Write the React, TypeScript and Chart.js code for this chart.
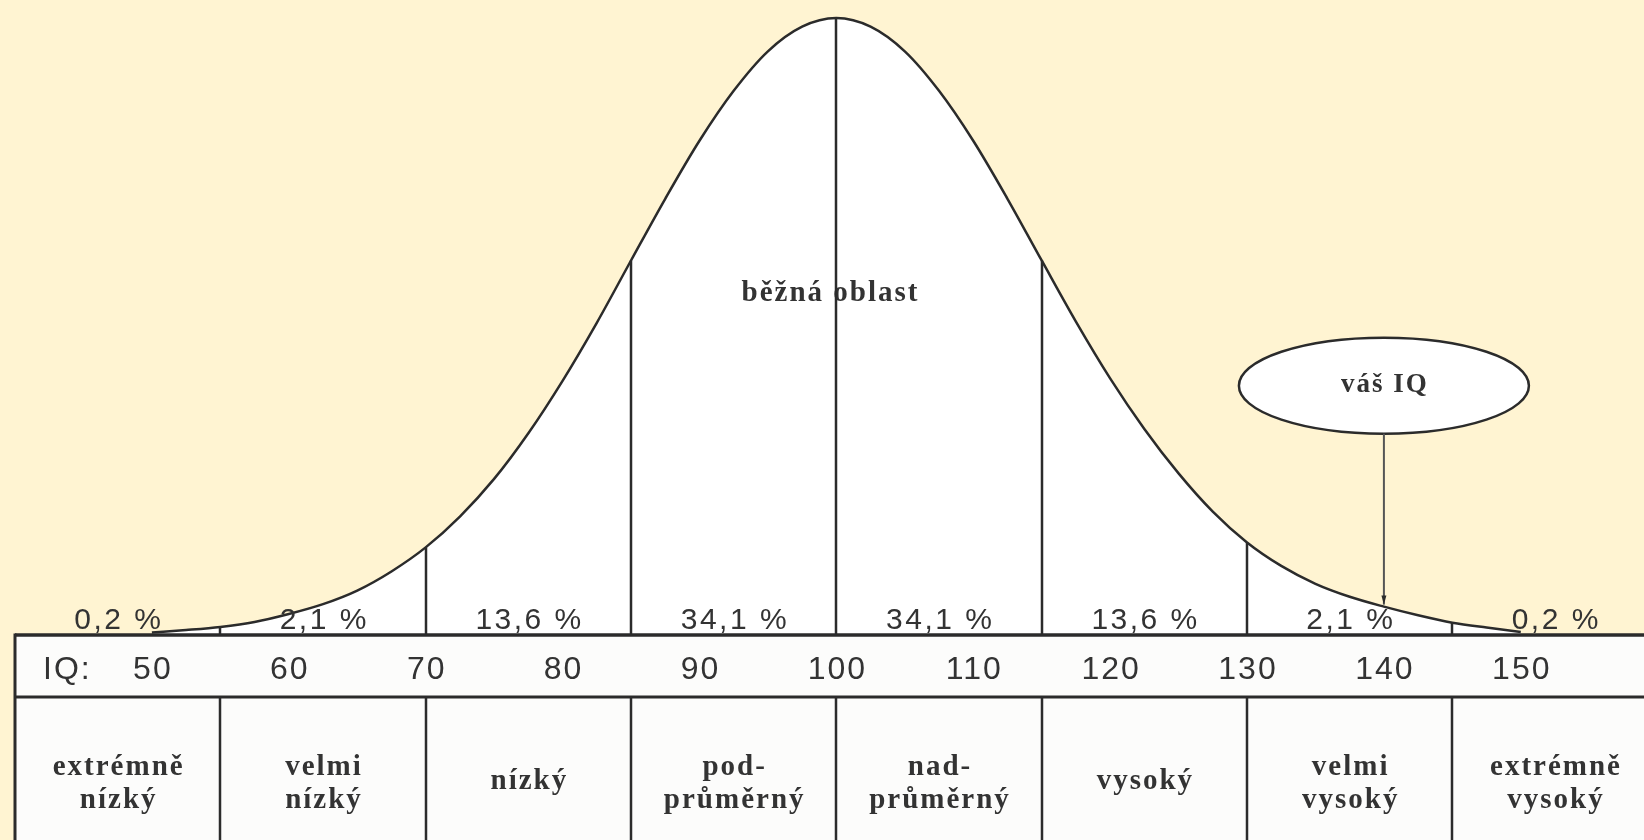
import React, { useEffect, useRef } from 'react';
import { Chart, registerables } from 'chart.js';

Chart.register(...registerables);

// ---- data ----
const curveIQ = [
  50, 52.5, 55, 57.5, 60, 62.5, 65, 67.5, 70, 72.5, 75, 77.5, 80, 82.5, 85, 87.5, 90, 92.5, 95, 97.5,
  100, 102.5, 105, 107.5, 110, 112.5, 115, 117.5, 120, 122.5, 125, 127.5, 130, 132.5, 135, 137.5, 140,
  142.5, 145, 147.5, 150,
];
const curveHeight = [
  0.4, 0.8, 1.3, 2.1, 3.4, 5.0, 7.2, 10.3, 14.2, 19.2, 25.3, 32.7, 41.2, 50.6, 60.7, 70.7, 80.1, 88.2, 94.6, 98.6,
  100, 98.6, 94.6, 88.2, 80.1, 70.7, 60.7, 50.8, 41.6, 33.4, 26.2, 20.0, 15.0, 11.2, 8.3, 6.2, 4.6,
  3.2, 2.0, 1.2, 0.5,
];
const bandEdges = [40, 55, 70, 85, 100, 115, 130, 145, 160];
const percentLabels = ['0,2 %', '2,1 %', '13,6 %', '34,1 %', '34,1 %', '13,6 %', '2,1 %', '0,2 %'];
const iqTicks = [50, 60, 70, 80, 90, 100, 110, 120, 130, 140, 150];
const iqPrefix = 'IQ:';
const categoryLines = [
  ['extrémně', 'nízký'],
  ['velmi', 'nízký'],
  ['nízký'],
  ['pod-', 'průměrný'],
  ['nad-', 'průměrný'],
  ['vysoký'],
  ['velmi', 'vysoký'],
  ['extrémně', 'vysoký'],
];
const regionLabel = 'běžná oblast';
const yourIQValue = 140;
const yourIQLabel = 'váš IQ';

// ---- layout / style ----
const W = 1644;
const H = 840;
const CREAM = '#FFF4D2';
const PAPER = '#FCFCFB';
const INK = '#2b2b2b';
const TEXT = '#333333';
const SANS = "'Liberation Sans', Arial, sans-serif";
const SERIF = "'Liberation Serif', 'Times New Roman', serif";

function text(ctx: CanvasRenderingContext2D, s: string, x: number, y: number, font: string, spacing: number, align: CanvasTextAlign = 'center') {
  ctx.font = font;
  (ctx as any).letterSpacing = spacing + 'px';
  ctx.textAlign = align;
  ctx.textBaseline = 'alphabetic';
  ctx.fillStyle = TEXT;
  const dx = align === 'center' ? spacing / 2 : 0;
  ctx.fillText(s, x + dx, y);
}

const diagramPlugin = {
  id: 'iqDiagram',
  beforeDraw(chart: any) {
    const { ctx, chartArea, scales } = chart;
    ctx.save();
    ctx.fillStyle = CREAM;
    ctx.fillRect(0, 0, W, H);
    const x0 = scales.x.getPixelForValue(bandEdges[0]);
    ctx.fillStyle = PAPER;
    ctx.fillRect(x0, chartArea.bottom, W - x0, H - chartArea.bottom);
    ctx.restore();
  },
  afterDatasetsDraw(chart: any) {
    const { ctx, chartArea, scales } = chart;
    const xs = scales.x;
    const ys = scales.y;
    const base = chartArea.bottom;
    const rowSplit = base + 62;
    const x0 = xs.getPixelForValue(bandEdges[0]);
    ctx.save();

    // region label (under the centre divider)
    text(ctx, regionLabel, xs.getPixelForValue(99.5), ys.getPixelForValue(54.2), `bold 29px ${SERIF}`, 2);

    ctx.strokeStyle = INK;
    ctx.lineCap = 'butt';

    // dividers inside the bell
    ctx.lineWidth = 2.5;
    for (let i = 1; i < bandEdges.length - 1; i++) {
      const iq = bandEdges[i];
      const idx = curveIQ.indexOf(iq);
      const yTop = ys.getPixelForValue(curveHeight[idx]);
      const x = Math.round(xs.getPixelForValue(iq));
      ctx.beginPath();
      ctx.moveTo(x, base);
      ctx.lineTo(x, yTop);
      ctx.stroke();
    }

    // table lines
    ctx.lineWidth = 3.5;
    ctx.beginPath();
    ctx.moveTo(x0, base);
    ctx.lineTo(W, base);
    ctx.stroke();
    ctx.lineWidth = 3;
    ctx.beginPath();
    ctx.moveTo(x0, rowSplit);
    ctx.lineTo(W, rowSplit);
    ctx.stroke();
    ctx.beginPath();
    ctx.moveTo(x0, base - 1.5);
    ctx.lineTo(x0, H);
    ctx.stroke();
    ctx.lineWidth = 2.5;
    for (let i = 1; i < bandEdges.length - 1; i++) {
      const x = Math.round(xs.getPixelForValue(bandEdges[i]));
      ctx.beginPath();
      ctx.moveTo(x, rowSplit);
      ctx.lineTo(x, H);
      ctx.stroke();
    }

    // percentages
    for (let i = 0; i < percentLabels.length; i++) {
      const mid = (bandEdges[i] + bandEdges[i + 1]) / 2;
      text(ctx, percentLabels[i], xs.getPixelForValue(mid), base - 6, `30px ${SANS}`, 2.5);
    }

    // IQ row
    text(ctx, iqPrefix, x0 + 28, base + 43.5, `32px ${SANS}`, 2, 'left');
    for (const v of iqTicks) {
      text(ctx, String(v), xs.getPixelForValue(v), base + 43.5, `32px ${SANS}`, 2);
    }

    // categories
    for (let i = 0; i < categoryLines.length; i++) {
      const mid = (bandEdges[i] + bandEdges[i + 1]) / 2;
      const cx = xs.getPixelForValue(mid);
      const lines = categoryLines[i];
      if (lines.length === 1) {
        text(ctx, lines[0], cx, base + 154, `bold 29px ${SERIF}`, 2);
      } else {
        text(ctx, lines[0], cx, base + 140, `bold 29px ${SERIF}`, 2);
        text(ctx, lines[1], cx, base + 173, `bold 29px ${SERIF}`, 2);
      }
    }

    // "your IQ" callout
    const ex = xs.getPixelForValue(yourIQValue);
    const ey = ys.getPixelForValue(40.4);
    const rx = 145;
    const ry = 48;
    ctx.fillStyle = '#FFFFFF';
    ctx.strokeStyle = INK;
    ctx.lineWidth = 2.5;
    ctx.beginPath();
    ctx.ellipse(ex, ey, rx, ry, 0, 0, Math.PI * 2);
    ctx.fill();
    ctx.stroke();
    text(ctx, yourIQLabel, ex, ey + 6, `bold 27px ${SERIF}`, 2);

    const idx = curveIQ.indexOf(yourIQValue);
    const yEnd = ys.getPixelForValue(curveHeight[idx]) - 2;
    ctx.strokeStyle = '#555';
    ctx.lineWidth = 2;
    ctx.beginPath();
    ctx.moveTo(ex, ey + ry);
    ctx.lineTo(ex, yEnd);
    ctx.stroke();
    ctx.fillStyle = INK;
    ctx.beginPath();
    ctx.moveTo(ex - 2.5, yEnd - 9);
    ctx.lineTo(ex + 2.5, yEnd - 9);
    ctx.lineTo(ex, yEnd);
    ctx.closePath();
    ctx.fill();

    ctx.restore();
  },
};

export default function App() {
  const ref = useRef<HTMLCanvasElement | null>(null);

  useEffect(() => {
    if (!ref.current) return;
    const chart = new Chart(ref.current, {
      type: 'line',
      data: {
        datasets: [
          {
            data: curveIQ.map((x, i) => ({ x, y: curveHeight[i] })),
            borderColor: INK,
            borderWidth: 2.5,
            backgroundColor: '#FFFFFF',
            fill: 'origin',
            pointRadius: 0,
            cubicInterpolationMode: 'monotone',
            clip: false as any,
          },
        ],
      },
      options: {
        animation: false,
        responsive: false,
        devicePixelRatio: 1,
        layout: { padding: { left: 15, right: 0, top: 18, bottom: 205 } },
        scales: {
          x: { type: 'linear', min: 40, max: 159, display: false },
          y: { min: 0, max: 100, display: false },
        },
        plugins: { legend: { display: false }, tooltip: { enabled: false } },
        events: [],
      },
      plugins: [diagramPlugin],
    });
    return () => chart.destroy();
  }, []);

  return (
    <div style={{ position: 'fixed', left: 0, top: 0, width: W, height: H }}>
      <canvas ref={ref} width={W} height={H} style={{ display: 'block', width: W, height: H }} />
    </div>
  );
}
